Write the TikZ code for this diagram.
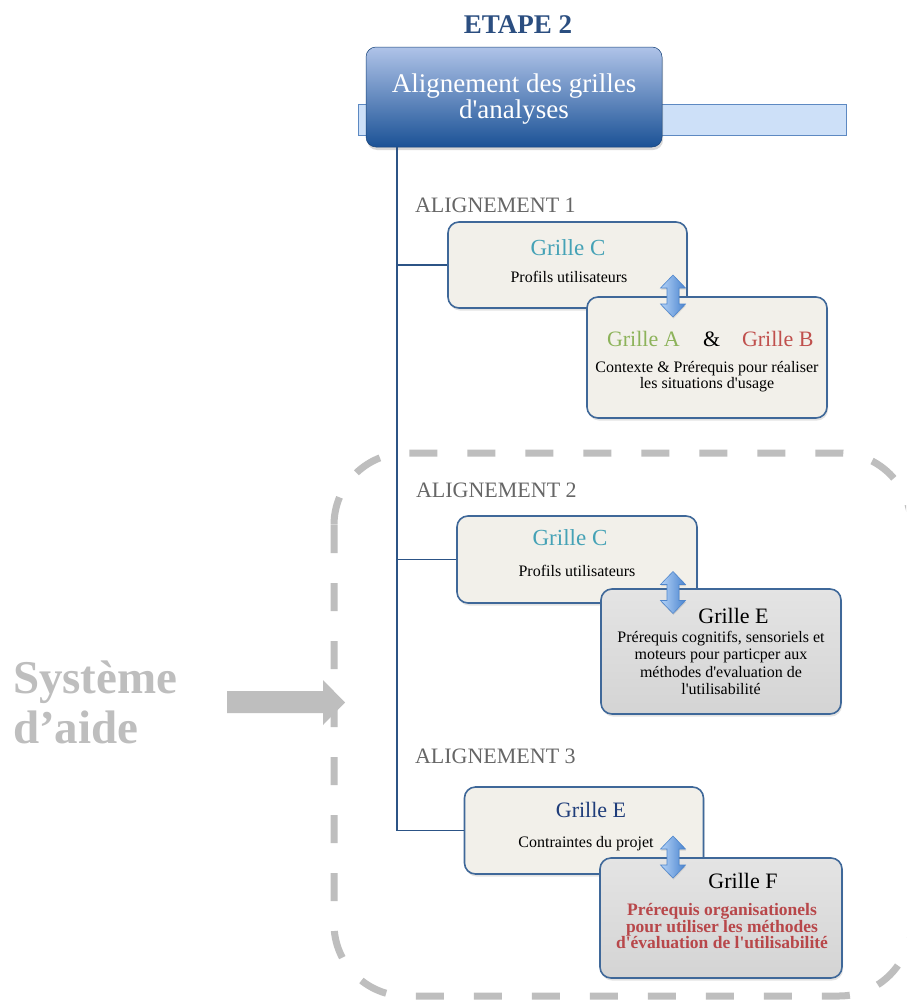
\documentclass[tikz,border=0pt]{standalone}
\usepackage{fontspec}
\setmainfont{Liberation Serif}[Ligatures=TeXOff]
\usetikzlibrary{shadows}
\definecolor{treeblue}{HTML}{2C5486}
\definecolor{boxborder}{HTML}{3F6899}
\definecolor{beige}{HTML}{F2F0EA}
\definecolor{grayA}{HTML}{E4E4E4}
\definecolor{grayB}{HTML}{D4D4D4}
\definecolor{hdrtop}{HTML}{AFC3E8}
\definecolor{hdrbot}{HTML}{1B5296}
\definecolor{barfill}{HTML}{CDE0F8}
\definecolor{barline}{HTML}{5D89C2}
\definecolor{etapeblue}{HTML}{2B4E80}
\definecolor{teal}{HTML}{45A2B6}
\definecolor{gre}{HTML}{8DB35A}
\definecolor{redB}{HTML}{C0504D}
\definecolor{redF}{HTML}{B8474A}
\definecolor{navy}{HTML}{1F3D7A}
\definecolor{labgray}{HTML}{666666}
\definecolor{framegray}{HTML}{BEBEBE}
\definecolor{arrL}{HTML}{B5D3F7}
\definecolor{arrR}{HTML}{4A84CF}
\definecolor{arrD}{HTML}{4F86CC}
\newcommand\myfs[1]{\fontsize{#1}{#1}\selectfont}
\begin{document}
\begin{tikzpicture}[x=1pt,y=-1pt,
  txt/.style={anchor=base,inner sep=0pt,outer sep=0pt},
  boxbase/.style={rounded corners=11pt,draw=boxborder,line width=1.6pt,inner sep=0pt,
     drop shadow={opacity=0.22,shadow xshift=1pt,shadow yshift=-2.5pt}},
  beigebox/.style={boxbase,fill=beige},
  graybox/.style={boxbase,top color=grayA,bottom color=grayB},
  tree/.style={draw=treeblue,line width=1.7pt},
  frame/.style={draw=framegray,line width=7pt,dash pattern=on 28pt off 30pt,rounded corners=72pt},
  arrfill/.style={left color=arrL,right color=arrR,draw=arrD,line width=0.6pt,
     drop shadow={opacity=0.25,shadow xshift=0.5pt,shadow yshift=-1.5pt}},
  dblarrow/.pic={
    \path[arrfill] (0,-21) -- (12.5,-8) -- (6,-8) -- (6,8) -- (12.5,8) -- (0,21)
       -- (-12.5,8) -- (-6,8) -- (-6,-8) -- (-12.5,-8) -- cycle;
  }
]
\useasboundingbox (0,0) rectangle (906,1001);
\clip (0,0) rectangle (906,1001);
\fill[white] (0,0) rectangle (906,1001);

% dashed frame
\draw[frame] (334,453) rectangle (911,996);

% big gray arrow
\fill[framegray] (227,691) -- (323,691) -- (323,680) -- (345,702.5) -- (323,725) -- (323,713) -- (227,713) -- cycle;

% Systeme d'aide
\node[txt,anchor=base west,text=framegray,font=\bfseries\myfs{47}] (sys1) at (13,693) {Système};
\node[txt,anchor=base west,text=framegray,font=\bfseries\myfs{47}] (sys2) at (13,743) {d’aide};

% header
\node[txt,text=etapeblue,font=\bfseries\myfs{27}] (etape) at (518,33) {ETAPE 2};
\node[draw=barline,fill=barfill,line width=1pt,minimum width=488pt,minimum height=31pt,inner sep=0pt] (bar) at (602,119.5) {};
\node[rounded corners=10pt,top color=hdrtop,bottom color=hdrbot,draw=hdrbot!80!black,line width=0.5pt,
      minimum width=296pt,minimum height=100pt,inner sep=0pt,
      drop shadow={opacity=0.3,shadow xshift=1pt,shadow yshift=-3pt}] (hdr) at (514,97) {};
\node[txt,text=white,font=\myfs{27}] (hdr1) at (514,92) {Alignement des grilles};
\node[txt,text=white,font=\myfs{27}] (hdr2) at (514,118) {d'analyses};

% labels
\node[txt,anchor=base west,text=labgray,font=\myfs{22}] (al1) at (415,212) {ALIGNEMENT 1};
\node[txt,anchor=base west,text=labgray,font=\myfs{22}] (al2) at (416,497) {ALIGNEMENT 2};
\node[txt,anchor=base west,text=labgray,font=\myfs{22}] (al3) at (415,763) {ALIGNEMENT 3};

% boxes
\node[beigebox,minimum width=239pt,minimum height=86pt] (c1) at (567.5,265) {};
\node[beigebox,minimum width=240pt,minimum height=121pt] (ab) at (707,357.5) {};
\node[beigebox,minimum width=240pt,minimum height=87pt] (c2) at (577,559.5) {};
\node[graybox,minimum width=240pt,minimum height=125pt] (e) at (721,651.5) {};
\node[beigebox,minimum width=239pt,minimum height=87pt] (c3) at (584,830.5) {};
\node[graybox,minimum width=242pt,minimum height=120pt] (f) at (721,918) {};

% tree
\coordinate (trunk) at (397,147);
\draw[tree] (trunk) |- (c3.west);
\draw[tree] (trunk |- c1.west) -- (c1.west);
\draw[tree] (trunk |- c2.west) -- (c2.west);

% box 1 texts
\node[txt,text=teal,font=\myfs{23}] (c1t) at (568,255) {Grille C};
\node[txt,font=\myfs{16}] (c1s) at (569,282) {Profils utilisateurs};
\node[txt,anchor=base west,text=gre,font=\myfs{22}] (gA) at (607,346) {Grille A};
\node[txt,anchor=base west,font=\myfs{22}] (amp) at (703,346) {\&};
\node[txt,anchor=base west,text=redB,font=\myfs{22}] (gB) at (742,346) {Grille B};
\node[txt,font=\myfs{16}] (ab1) at (707,372) {Contexte \& Prérequis pour réaliser};
\node[txt,font=\myfs{16}] (ab2) at (707,388) {les situations d'usage};

% box 2 texts
\node[txt,text=teal,font=\myfs{23}] (c2t) at (570,545) {Grille C};
\node[txt,font=\myfs{16}] (c2s) at (577,576) {Profils utilisateurs};
\node[txt,font=\myfs{22}] (et) at (733.5,623) {Grille E};
\node[txt,font=\myfs{16}] (e1) at (721,642) {Prérequis cognitifs, sensoriels et};
\node[txt,font=\myfs{16}] (e2) at (721,659) {moteurs pour particper aux};
\node[txt,font=\myfs{16}] (e3) at (721,677) {méthodes d'evaluation de};
\node[txt,font=\myfs{16}] (e4) at (721,694) {l'utilisabilité};

% box 3 texts
\node[txt,text=navy,font=\myfs{22}] (c3t) at (591,817) {Grille E};
\node[txt,font=\myfs{16}] (c3s) at (586,847) {Contraintes du projet};
\node[txt,font=\myfs{22}] (ft) at (743,888) {Grille F};
\node[txt,text=redF,font=\bfseries\myfs{17.5}] (f1) at (722,915) {Prérequis organisationels};
\node[txt,text=redF,font=\bfseries\myfs{17.5}] (f2) at (722,932) {pour utiliser les méthodes};
\node[txt,text=redF,font=\bfseries\myfs{17.5}] (f3) at (722,948) {d'évaluation de l'utilisabilité};

% double arrows
\pic at (673,296) {dblarrow};
\pic at (673,592.5) {dblarrow};
\pic at (673,857) {dblarrow};
\end{tikzpicture}
\end{document}
